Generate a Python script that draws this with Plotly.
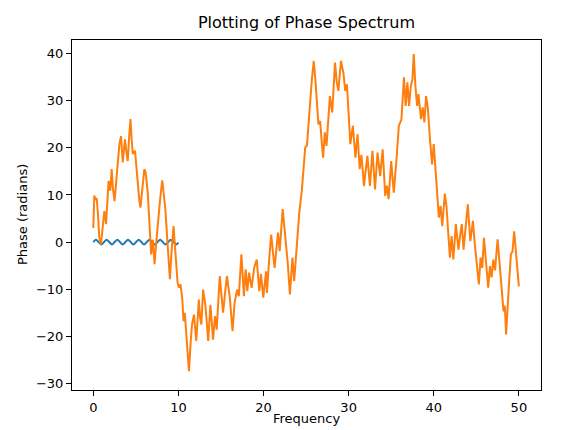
import plotly.graph_objects as go

# blue trace: small sine-like ripple, crests/zeros/troughs
freq_blue = [0, 0.31, 0.63, 0.94, 1.26, 1.57, 1.88, 2.2, 2.51, 2.83, 3.14,
             3.46, 3.77, 4.08, 4.4, 4.71, 5.03, 5.34, 5.65, 5.97, 6.28,
             6.6, 6.91, 7.23, 7.54, 7.85, 8.17, 8.48, 8.8, 9.11, 9.42,
             9.74, 10.0]
phase_blue = [0, 0.5, 0, -0.5, 0, 0.5, 0, -0.5, 0, 0.5, 0,
              -0.5, 0, 0.5, 0, -0.5, 0, 0.5, 0, -0.5, 0,
              0.5, 0, -0.5, 0, 0.5, 0, -0.5, 0, 0.5, 0,
              -0.5, -0.13]

# orange trace: phase spectrum, read point by point
freq_orange = [
    0.0, 0.12, 0.25, 0.4, 0.55, 0.7, 0.9, 1.1, 1.3, 1.5, 1.65, 1.8, 2.0, 2.16,
    2.3, 2.5, 2.7, 2.9, 3.07, 3.26, 3.46, 3.6, 3.73, 3.9, 4.05, 4.2, 4.37, 4.5,
    4.64, 4.9, 5.05, 5.2, 5.4, 5.54, 5.75, 6.0, 6.15, 6.4, 6.6, 6.8, 7.0, 7.2,
    7.4, 7.6, 7.85, 8.1, 8.3, 8.45, 8.7, 9.0, 9.2, 9.43, 9.6, 9.75, 9.9, 10.06,
    10.25, 10.46, 10.6, 10.75, 10.95, 11.24, 11.45, 11.6, 11.83, 12.1, 12.4,
    12.55, 12.7, 12.9, 13.17, 13.5, 13.76, 13.9, 14.07, 14.3, 14.5, 14.86,
    15.05, 15.25, 15.5, 15.7, 16.04, 16.36, 16.6, 16.9, 17.1, 17.4, 17.7, 17.9,
    18.1, 18.3, 18.6, 18.9, 19.2, 19.5, 19.7, 19.97, 20.3, 20.4, 20.65, 20.9,
    21.1, 21.3, 21.7, 21.9, 22.25, 22.6, 22.85, 23.1, 23.4, 23.6, 23.97, 24.2,
    24.5, 24.9, 25.1, 25.5, 25.67, 25.9, 26.1, 26.45, 26.65, 26.85, 27.0, 27.2,
    27.4, 27.8, 28.07, 28.4, 28.6, 28.8, 29.1, 29.4, 29.6, 29.8, 30.2, 30.5,
    30.8, 31.05, 31.3, 31.5, 31.8, 32.2, 32.5, 32.8, 33.1, 33.4, 33.7, 34.0,
    34.3, 34.5, 34.7, 35.0, 35.3, 35.6, 35.9, 36.2, 36.5, 36.7, 36.9, 37.1,
    37.3, 37.5, 37.65, 37.85, 38.05, 38.2, 38.5, 38.7, 38.9, 39.1, 39.3, 39.55,
    39.8, 40.0, 40.2, 40.4, 40.6, 40.8, 41.0, 41.3, 41.5, 41.7, 41.9, 42.1,
    42.3, 42.6, 42.9, 43.1, 43.3, 43.5, 43.75, 44.0, 44.3, 44.6, 44.8, 45.05,
    45.3, 45.5, 45.7, 45.9, 46.15, 46.4, 46.6, 46.8, 47.0, 47.2, 47.5, 47.85,
    48.2, 48.35, 48.5, 48.8, 49.06, 49.25, 49.45, 49.65, 49.85, 50.0]
phase_orange = [
    3.0, 9.9, 9.0, 9.3, 6.0, 1.0, -0.5, 2.5, 6.6, 3.8, 8.5, 13.0, 10.9, 15.5,
    11.5, 8.7, 13.0, 17.5, 20.8, 22.5, 16.9, 19.5, 21.8, 19.0, 17.2, 22.0, 26.1, 22.0,
    18.7, 19.4, 16.0, 12.5, 9.0, 7.3, 11.0, 15.5, 14.8, 10.5, 4.0, -2.6, 0.5, -4.7,
    0.0, 4.8, 9.0, 13.1, 10.0, 7.3, 0.5, -7.9, -2.0, 3.4, -1.0, -5.5, -8.5, -9.7,
    -9.0, -12.2, -16.8, -15.0, -21.0, -27.4, -21.0, -17.5, -15.4, -21.0, -12.2,
    -16.0, -17.5, -10.1, -13.3, -21.0, -13.3, -17.0, -20.7, -15.7, -18.6, -7.2,
    -11.5, -15.0, -10.5, -7.2, -11.8, -18.9, -12.9, -10.1, -11.5, -2.6, -11.5, -5.8,
    -10.4, -6.5, -9.7, -5.5, -3.7, -10.4, -6.8, -11.8, -6.2, -10.8, -4.0, 1.6,
    -2.0, -5.5, 2.0, -1.9, 7.0, 0.9, -4.5, -11.1, -3.3, -8.3, 1.6, 6.2,
    10.9, 20.1, 20.5, 31.8, 34.3, 38.5, 34.3, 25.0, 25.7, 21.0, 17.9, 23.3,
    20.4, 31.0, 27.5, 38.1, 34.0, 32.1, 38.5, 35.7, 32.1, 33.5, 20.8, 24.7,
    17.9, 22.9, 15.5, 18.5, 11.9, 18.3, 11.9, 19.4, 11.2, 19.0, 14.0, 19.7,
    9.8, 12.0, 9.1, 17.2, 10.5, 17.0, 24.7, 26.0, 35.0, 28.9, 33.9, 28.9,
    33.0, 34.6, 39.9, 33.0, 28.9, 31.4, 26.1, 28.6, 25.4, 31.0, 28.6, 22.0,
    16.5, 20.8, 15.0, 10.9, 5.2, 7.7, 3.4, 10.3, 7.5, 2.0, -3.3, 1.3,
    -3.7, 3.8, -1.6, 1.5, 3.8, -1.6, 3.0, 8.0, 0.2, 4.5, 0.0, -4.0,
    -9.0, -3.3, -5.5, 0.9, -4.0, -9.7, -5.1, -7.5, -3.7, -6.0, 0.6, -7.0,
    -14.7, -13.5, -19.6, -10.0, -2.6, -2.0, 2.3, -2.0, -7.6, -9.4]

x_ticks = [0, 10, 20, 30, 40, 50]
y_ticks = [-30, -20, -10, 0, 10, 20, 30, 40]

fig = go.Figure()
fig.add_trace(go.Scatter(x=freq_blue, y=phase_blue, mode="lines",
                         line=dict(color="#1f77b4", width=2, shape="spline")))
fig.add_trace(go.Scatter(x=freq_orange, y=phase_orange, mode="lines",
                         line=dict(color="#ff7f0e", width=2)))

axis_style = dict(showgrid=False, zeroline=False, showline=True, mirror=True,
                  linecolor="black", linewidth=1, ticks="outside", ticklen=5,
                  tickcolor="black", tickfont=dict(size=13, color="black"))

fig.update_xaxes(range=[-2.5, 52.6], tickvals=x_ticks, **axis_style)
fig.update_yaxes(range=[-31.4, 42.9], tickvals=y_ticks, **axis_style)

# the page puts the figure 8px in from the corner, so size it to fit
fig.update_layout(
    width=577, height=422,
    margin=dict(l=64, r=44, t=32, b=40),
    paper_bgcolor="white", plot_bgcolor="white",
    font=dict(family="DejaVu Sans", color="black"),
    showlegend=False,
    title=dict(text="Plotting of Phase Spectrum", x=0.5, xref="paper",
               y=1 - 14 / 422, yref="container", yanchor="middle",
               font=dict(size=16, color="black")),
    annotations=[
        dict(text="Frequency", xref="paper", yref="paper", x=0.5, y=-28 / 350,
             yanchor="middle", showarrow=False, font=dict(size=13)),
        dict(text="Phase (radians)", xref="paper", yref="paper", x=-50 / 469,
             y=0.5, xanchor="center", textangle=-90, showarrow=False,
             font=dict(size=13)),
    ],
)

fig.write_html("out.html")
